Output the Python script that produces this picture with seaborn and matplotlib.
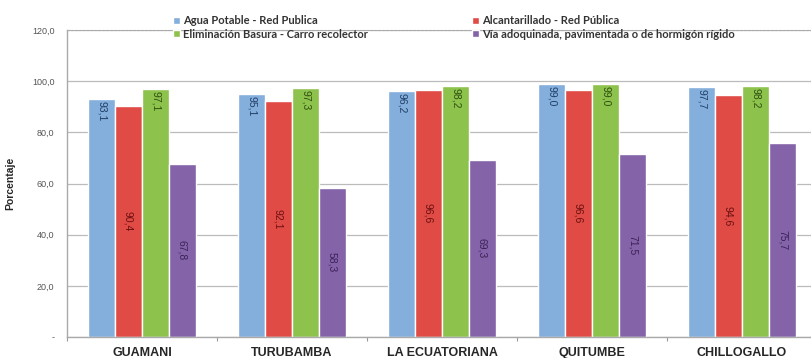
import numpy as np
import pandas as pd
import matplotlib
matplotlib.use('Agg')
import matplotlib.pyplot as plt
import seaborn as sns

# Datos del gráfico
zonas = ['GUAMANI', 'TURUBAMBA', 'LA ECUATORIANA', 'QUITUMBE', 'CHILLOGALLO']
series = ['Agua Potable - Red Publica', 'Alcantarillado - Red Pública',
          'Eliminación Basura - Carro recolector',
          'Vía adoquinada, pavimentada o de hormigón rígido']
agua = [93.1, 95.1, 96.2, 99.0, 97.7]
alcantarillado = [90.4, 92.1, 96.6, 96.6, 94.6]
basura = [97.1, 97.3, 98.2, 99.0, 98.2]
via = [67.8, 58.3, 69.3, 71.5, 75.7]
colores = ['#84AEDB', '#E04B46', '#8DC24D', '#8563A8']
colores_texto = ['#1F3F66', '#6B1010', '#2F5010', '#3A2258']
yticks = [0, 20, 40, 60, 80, 100, 120]

df = pd.DataFrame({
    'zona': zonas * 4,
    'serie': np.repeat(series, len(zonas)),
    'valor': agua + alcantarillado + basura + via,
})

sns.set_style('white')
plt.rcParams['font.family'] = ['Liberation Sans', 'DejaVu Sans']

fig = plt.figure(figsize=(8.11, 3.58), dpi=100)
ax = fig.add_axes([67 / 811, 1 - 337 / 358, 750 / 811, 307 / 358])

sns.barplot(data=df, x='zona', y='valor', hue='serie', order=zonas,
            hue_order=series, palette=colores, width=0.72, gap=0.02,
            saturation=1, ax=ax, legend=True)

ax.set_ylim(0, 120)
ax.set_xlim(-0.5, len(zonas) - 0.5)
ax.set_yticks(yticks)
ax.set_yticklabels(['-'] + [f'{v:.1f}'.replace('.', ',') for v in yticks[1:]],
                   fontsize=6.5, color='#555555')
ax.yaxis.grid(True, color='#BBBBBB', lw=0.9)
ax.set_axisbelow(True)
ax.tick_params(axis='y', length=3, width=0.8, color='#999999', pad=6)
ax.set_xticks(np.arange(len(zonas) + 1) - 0.5, minor=True)
ax.tick_params(axis='x', which='major', length=0, pad=7)
ax.tick_params(axis='x', which='minor', length=3, width=0.8, color='#999999',
               bottom=True)
ax.set_xlabel('')
ax.set_ylabel('Porcentaje', fontsize=7.5, fontweight='bold', labelpad=12)

for lab in ax.get_xticklabels():
    lab.set_fontsize(9)
    lab.set_fontweight('bold')

for s in ['left', 'bottom']:
    ax.spines[s].set_color('#AAAAAA')
    ax.spines[s].set_linewidth(1.0)
ax.spines['top'].set_color('#AAAAAA')
ax.spines['top'].set_linestyle((0, (2, 1.5)))
ax.spines['top'].set_linewidth(0.8)
ax.spines['right'].set_visible(False)

# Etiquetas de valores rotadas
for i, cont in enumerate(ax.containers):
    for bar in cont:
        h = bar.get_height()
        x = bar.get_x() + bar.get_width() / 2
        txt = f'{h:.1f}'.replace('.', ',')
        if i in (0, 2):
            ax.text(x, h - 0.8, txt, rotation=270, ha='center', va='top',
                    fontsize=7.5, color=colores_texto[i])
        else:
            ax.text(x, h / 2, txt, rotation=270, ha='center', va='center',
                    fontsize=7.5, color=colores_texto[i])

# Leyenda en dos filas: (agua, alcantarillado) / (basura, via)
handles, labels = ax.get_legend_handles_labels()
orden = [0, 2, 1, 3]
leg = ax.legend([handles[k] for k in orden], [labels[k] for k in orden],
                loc='upper left', bbox_to_anchor=(173 / 811, 1 - 15 / 358),
                bbox_transform=fig.transFigure, ncol=2, frameon=False,
                fontsize=8, handlelength=0.6, handleheight=0.6,
                handletextpad=0.3, columnspacing=9.4, labelspacing=0.25,
                borderaxespad=0, borderpad=0)
for t in leg.get_texts():
    t.set_family(['Lato', 'DejaVu Sans'])
    t.set_fontweight('bold')
    t.set_color('#333333')

fig.savefig('out.png', dpi=100)
